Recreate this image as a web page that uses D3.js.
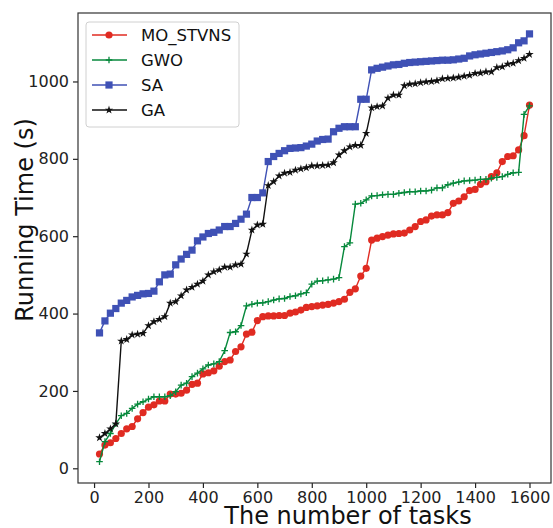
<!DOCTYPE html>
<html>
<head>
<meta charset="utf-8">
<script src="https://cdn.jsdelivr.net/npm/d3@7"></script>
<style>
  body { margin: 0; background: #fff; }
  svg { font-family: "DejaVu Sans", sans-serif; }
</style>
</head>
<body>
<script>
// number of tasks (x)
const tasks = [20,40,60,80,100,120,140,160,180,200,220,240,260,280,300,320,340,360,380,400,
  420,440,460,480,500,520,540,560,580,600,620,640,660,680,700,720,740,760,780,800,
  820,840,860,880,900,920,940,960,980,1000,1020,1040,1060,1080,1100,1120,1140,1160,1180,1200,
  1220,1240,1260,1280,1300,1320,1340,1360,1380,1400,1420,1440,1460,1480,1500,1520,1540,1560,1580,1600];

const moStvns = [37,60,66,77,90,102,108,128,144,158,
  164,174,174,192,192,194,202,217,220,244,
  247,252,264,276,280,302,314,347,352,382,
  392,394,394,395,395,401,404,409,416,418,
  420,422,424,427,431,437,455,464,497,517,
  590,595,599,603,606,607,608,616,625,638,
  642,652,655,655,661,685,691,702,718,721,
  734,741,754,764,793,806,808,823,860,939];

const gwo = [17,69,90,115,136,142,155,166,172,179,
  185,185,185,188,198,215,220,237,246,257,
  267,270,276,304,351,353,369,420,424,427,
  428,431,435,438,439,444,446,451,454,476,
  484,485,487,489,493,573,583,683,685,694,
  704,705,707,708,708,711,713,715,715,717,
  717,719,725,725,733,737,740,743,744,745,
  747,747,750,752,754,760,764,765,915,937];

const sa = [350,381,401,413,427,434,443,447,451,452,
  458,482,500,502,526,541,553,564,588,598,
  607,610,616,625,625,633,644,657,700,700,
  712,793,806,814,821,827,828,829,833,838,
  846,850,851,870,879,883,883,883,954,954,
  1030,1034,1037,1040,1043,1044,1047,1049,1050,1051,
  1052,1053,1054,1055,1055,1056,1058,1060,1066,1069,
  1071,1073,1075,1077,1079,1082,1087,1100,1105,1123];

const ga = [79,90,102,115,329,333,345,347,349,369,
  379,385,392,427,431,446,461,468,476,484,
  500,508,513,520,520,526,528,554,616,629,
  631,731,741,756,763,765,771,774,777,782,
  782,783,784,790,810,821,831,835,835,866,
  932,935,937,957,965,965,989,993,994,997,
  999,1000,1002,1007,1008,1009,1011,1014,1016,1021,
  1022,1025,1025,1036,1038,1045,1047,1054,1060,1070];

const xTicks = [0,200,400,600,800,1000,1200,1400,1600];
const yTicks = [0,200,400,600,800,1000];

const series = [
  {name: "MO_STVNS", values: moStvns, color: "#e02b22", marker: "circle"},
  {name: "GWO", values: gwo, color: "#07893c", marker: "plus"},
  {name: "SA", values: sa, color: "#3f51b5", marker: "square"},
  {name: "GA", values: ga, color: "#111111", marker: "star"}
];

const width = 553, height = 528;
const mLeft = 78, mRight = 551, mTop = 13, mBottom = 483;

const svg = d3.select('body').append('svg').attr('width', width).attr('height', height);

const x = d3.scaleLinear().domain([-59, 1679]).range([mLeft, mRight]);
const y = d3.scaleLinear().domain([-38, 1177]).range([mBottom, mTop]);

function drawMarker(sel, type, color) {
  if (type === "circle") {
    sel.append('circle').attr('r', 3.6).attr('fill', color);
  } else if (type === "square") {
    sel.append('rect').attr('x', -3.6).attr('y', -3.6).attr('width', 7.2).attr('height', 7.2).attr('fill', color);
  } else if (type === "plus") {
    sel.append('path').attr('d', 'M-3.3,0H3.3M0,-3.3V3.3').attr('stroke', color).attr('stroke-width', 1.3);
  } else if (type === "star") {
    sel.append('path').attr('d', d3.symbol(d3.symbolStar, 22)()).attr('fill', color);
  }
}

const line = d3.line().x((d, i) => x(tasks[i])).y(d => y(d));

const plot = svg.append('g');
series.forEach(s => {
  plot.append('path').datum(s.values).attr('d', line)
    .attr('fill', 'none').attr('stroke', s.color).attr('stroke-width', 1.4);
  plot.selectAll(null).data(s.values).enter().append('g')
    .attr('transform', (d, i) => `translate(${x(tasks[i])},${y(d)})`)
    .each(function() { drawMarker(d3.select(this), s.marker, s.color); });
});

// axes
const fmt = d3.format('d');
const xAxis = svg.append('g').attr('transform', `translate(0,${mBottom})`)
  .call(d3.axisBottom(x).tickValues(xTicks).tickFormat(fmt).tickSize(5).tickPadding(4).tickSizeOuter(0));
const yAxis = svg.append('g').attr('transform', `translate(${mLeft},0)`)
  .call(d3.axisLeft(y).tickValues(yTicks).tickFormat(fmt).tickSize(5).tickPadding(4).tickSizeOuter(0));
[xAxis, yAxis].forEach(a => {
  a.selectAll('text').attr('font-size', 16).attr('fill', '#222').attr('font-family', '"DejaVu Sans"');
  a.selectAll('line').attr('stroke', '#222').attr('stroke-width', 1.2);
  a.select('.domain').remove();
});

// frame
svg.append('rect').attr('x', mLeft).attr('y', mTop).attr('width', mRight - mLeft).attr('height', mBottom - mTop)
  .attr('fill', 'none').attr('stroke', '#333').attr('stroke-width', 1.2);

// axis labels
svg.append('text').attr('x', 348).attr('y', 524).attr('text-anchor', 'middle')
  .attr('font-size', 24).attr('fill', '#111').text('The number of tasks');
svg.append('text').attr('transform', 'translate(33,220) rotate(-90)').attr('text-anchor', 'middle')
  .attr('font-size', 24).attr('fill', '#111').text('Running Time (s)');

// legend
const lg = svg.append('g').attr('transform', 'translate(86,22)');
lg.append('rect').attr('width', 153).attr('height', 105).attr('rx', 3)
  .attr('fill', 'white').attr('fill-opacity', 0.85).attr('stroke', '#d0d0d0');
series.forEach((s, i) => {
  const row = lg.append('g').attr('transform', `translate(0,${13 + i * 25})`);
  row.append('line').attr('x1', 6).attr('x2', 41).attr('stroke', s.color).attr('stroke-width', 1.4);
  drawMarker(row.append('g').attr('transform', 'translate(23,0)'), s.marker, s.color);
  row.append('text').attr('x', 55).attr('y', 6).attr('font-size', 16.5).attr('fill', '#111').text(s.name);
});
</script>
</body>
</html>
